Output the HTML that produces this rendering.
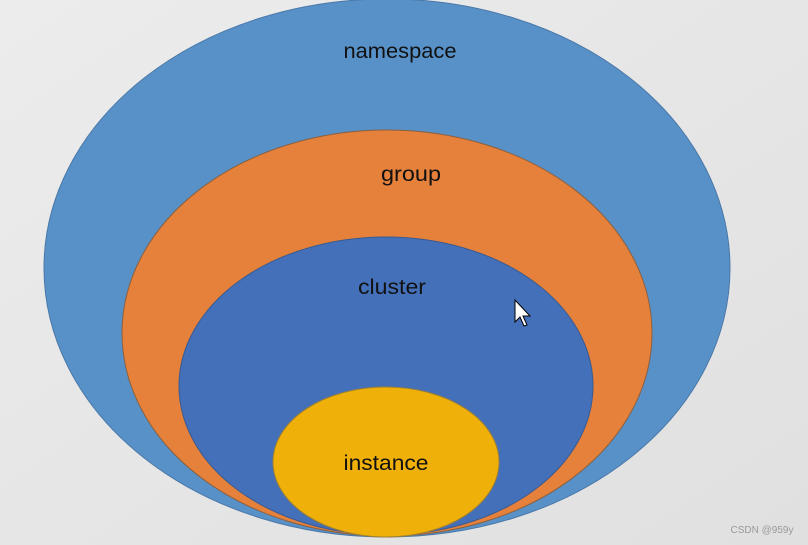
<!DOCTYPE html>
<html><head><meta charset="utf-8"><style>
html,body{margin:0;padding:0;background:#e6e6e6;}
svg{display:block}
text{font-family:"Liberation Sans",sans-serif;font-size:21px;fill:#111;text-anchor:middle}
</style></head><body>
<svg width="808" height="545" viewBox="0 0 808 545">
<defs><linearGradient id="bg" x1="0" y1="0" x2="1" y2="1"><stop offset="0" stop-color="#ececec"/><stop offset="1" stop-color="#e0e0e0"/></linearGradient></defs>
<rect width="808" height="545" fill="url(#bg)"/>
<ellipse cx="387" cy="268" rx="343" ry="269" fill="#5891c8" stroke="#4a78a8" stroke-width="1"/>
<ellipse cx="387" cy="333" rx="265" ry="203" fill="#e5813a" stroke="#8a6040" stroke-width="1"/>
<ellipse cx="386" cy="386" rx="207" ry="149" fill="#4470b9" stroke="#3a5a90" stroke-width="1"/>
<ellipse cx="386" cy="462" rx="113" ry="75" fill="#efb00a" stroke="#a08030" stroke-width="1"/>
<text x="400" y="58" textLength="113" lengthAdjust="spacingAndGlyphs">namespace</text>
<text x="411" y="181" textLength="60" lengthAdjust="spacingAndGlyphs">group</text>
<text x="392" y="294" textLength="68" lengthAdjust="spacingAndGlyphs">cluster</text>
<text x="386" y="470" textLength="85" lengthAdjust="spacingAndGlyphs">instance</text>
<text x="762" y="533" style="font-size:10px;fill:#999">CSDN @959y</text>
<path d="M515 300 l0 22 l5 -5 l4 9 l3 -1 l-4 -9 l7 0 z" fill="#fff" stroke="#000" stroke-width="1"/>
</svg>
</body></html>
